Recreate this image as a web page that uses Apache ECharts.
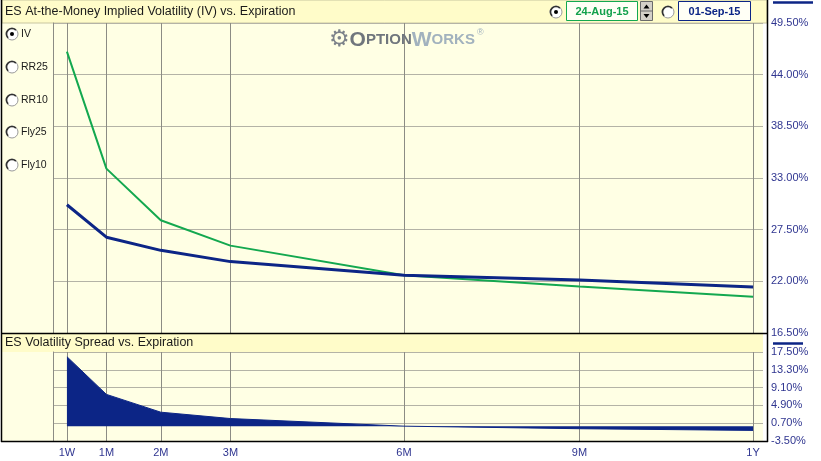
<!DOCTYPE html>
<html><head><meta charset="utf-8">
<script src="https://cdn.jsdelivr.net/npm/echarts@6/dist/echarts.min.js"></script>
<style>html,body{margin:0;padding:0;background:#fff;}#c{width:821px;height:461px;}</style>
</head><body><div id="c"></div>
<script>
// ---- data ----
const tenorLabels = ['1W', '1M', '2M', '3M', '6M', '9M', '1Y'];
const tenorDays = [5.3, 26, 54.5, 91, 182, 274, 365];
const ivAug24 = [46.45, 34.0, 28.5, 25.8, 22.65, 21.45, 20.35];
const ivSep01 = [30.15, 26.7, 25.3, 24.1, 22.65, 22.15, 21.4];
const spread = [16.4, 7.5, 3.3, 1.8, 0.0, -0.6, -1.0];
const spreadTicks = [-3.5, 0.7, 4.9, 9.1, 13.3, 17.5];
const dateLabels = ['24-Aug-15', '01-Sep-15'];
const measureLabels = ['IV', 'RR25', 'RR10', 'Fly25', 'Fly10'];
const titleTop = 'ES At-the-Money Implied Volatility (IV) vs. Expiration';
const titleBottom = 'ES Volatility Spread vs. Expiration';

const GREEN = '#13a84f', NAVY = '#0c2586', LABEL = '#2f3590';
const PLOT_BG = '#ffffe4', BAR_BG = '#fffcc9';
const FONT = '"Liberation Sans", Arial, sans-serif';

const pairs = (ys) => tenorDays.map((d, i) => [d, ys[i]]);
const xLabel = (v) => { const i = tenorDays.indexOf(v); return i >= 0 ? tenorLabels[i] : ''; };

function radio(cx, cy, checked) {
  const els = [
    { type: 'circle', shape: { cx, cy, r: 6 }, style: { fill: '#ffffff', stroke: '#9a9a9a', lineWidth: 1 }, z: 10 },
    { type: 'arc', shape: { cx, cy, r: 5.5, startAngle: Math.PI * 0.75, endAngle: Math.PI * 1.75, clockwise: true }, style: { stroke: '#303030', lineWidth: 1.6, fill: null }, z: 11 }
  ];
  if (checked) els.push({ type: 'circle', shape: { cx, cy, r: 2 }, style: { fill: '#000' }, z: 12 });
  return els;
}

const graphics = [
  // backgrounds
  { type: 'rect', shape: { x: 2, y: 0, width: 761, height: 441 }, style: { fill: PLOT_BG }, z: -20 },
  { type: 'rect', shape: { x: 2, y: 0, width: 765, height: 23 }, style: { fill: BAR_BG, stroke: '#c8c6a0', lineWidth: 1 }, z: -19 },
  { type: 'rect', shape: { x: 2, y: 334, width: 761, height: 18 }, style: { fill: BAR_BG }, z: -19 },
  // frame
  { type: 'line', shape: { x1: 1.5, y1: 0, x2: 1.5, y2: 442 }, style: { stroke: '#000', lineWidth: 1.5 }, z: 20 },
  { type: 'line', shape: { x1: 767.5, y1: 0, x2: 767.5, y2: 442 }, style: { stroke: '#000', lineWidth: 1.5 }, z: 20 },
  { type: 'line', shape: { x1: 1, y1: 441.5, x2: 768, y2: 441.5 }, style: { stroke: '#000', lineWidth: 1.5 }, z: 20 },
  { type: 'line', shape: { x1: 1, y1: 333.5, x2: 768, y2: 333.5 }, style: { stroke: '#000', lineWidth: 1.5 }, z: 20 },
  // titles
  { type: 'text', x: 5, y: 12, style: { text: titleTop, font: '12.5px ' + FONT, fill: '#1a1a1a', verticalAlign: 'middle' }, z: 20 },
  { type: 'text', x: 5, y: 343, style: { text: titleBottom, font: '12.5px ' + FONT, fill: '#1a1a1a', verticalAlign: 'middle' }, z: 20 },
  // axis series markers at the right
  { type: 'line', shape: { x1: 773, y1: 2.5, x2: 813, y2: 2.5 }, style: { stroke: NAVY, lineWidth: 2.5 }, z: 20 },
  { type: 'line', shape: { x1: 773, y1: 343.5, x2: 803, y2: 343.5 }, style: { stroke: NAVY, lineWidth: 2.5 }, z: 20 },
  // logo
  { type: 'text', x: 329, y: 40, style: {
      text: '{g|⚙}{a|O}{b|PTION}{c|W}{d|ORKS}{r|®}',
      verticalAlign: 'middle',
      rich: {
        g: { font: 'bold 23px "DejaVu Sans"', fill: '#7d838a' },
        a: { font: 'bold 21px ' + FONT, fill: '#70767d' },
        b: { font: 'bold 15px ' + FONT, fill: '#70767d' },
        c: { font: 'bold 21px ' + FONT, fill: '#a2b2be' },
        d: { font: 'bold 15px ' + FONT, fill: '#a2b2be' },
        r: { font: '9px ' + FONT, fill: '#a2b2be', verticalAlign: 'top', padding: [0, 0, 9, 2] }
      } }, z: 5 },
  // date selectors
  { type: 'rect', shape: { x: 566.5, y: 1.5, width: 71, height: 19 }, style: { fill: '#fffff6', stroke: GREEN, lineWidth: 1 }, z: 10 },
  { type: 'text', x: 602, y: 11.5, style: { text: dateLabels[0], font: 'bold 11px ' + FONT, fill: '#12a14c', align: 'center', verticalAlign: 'middle' }, z: 11 },
  { type: 'rect', shape: { x: 640.5, y: 1.5, width: 12, height: 19 }, style: { fill: '#d4d0c8', stroke: '#6a6a6a', lineWidth: 1 }, z: 10 },
  { type: 'line', shape: { x1: 640.5, y1: 11, x2: 652.5, y2: 11 }, style: { stroke: '#6a6a6a', lineWidth: 1 }, z: 11 },
  { type: 'polygon', shape: { points: [[643.5, 8.5], [649.5, 8.5], [646.5, 4.5]] }, style: { fill: '#000' }, z: 11 },
  { type: 'polygon', shape: { points: [[643.5, 14], [649.5, 14], [646.5, 18]] }, style: { fill: '#000' }, z: 11 },
  { type: 'rect', shape: { x: 678.5, y: 1.5, width: 72, height: 19 }, style: { fill: '#fffff6', stroke: NAVY, lineWidth: 1 }, z: 10 },
  { type: 'text', x: 714.5, y: 11.5, style: { text: dateLabels[1], font: 'bold 11px ' + FONT, fill: NAVY, align: 'center', verticalAlign: 'middle' }, z: 11 }
];
graphics.push(...radio(556, 12, true), ...radio(668, 12, false));
measureLabels.forEach((m, i) => {
  const cy = [34, 67, 100, 132, 165][i];
  graphics.push(...radio(12, cy, i === 0));
  graphics.push({ type: 'text', x: 21, y: cy, style: { text: m, font: '10.5px ' + FONT, fill: '#1a1a1a', verticalAlign: 'middle' }, z: 12 });
});

const xCommon = (showLabels) => ({
  type: 'value', min: -2, max: 370.2,
  axisLine: { show: false },
  axisTick: { show: false, customValues: tenorDays },
  axisLabel: { show: showLabels, customValues: tenorDays, formatter: xLabel, color: LABEL, fontSize: 11, fontFamily: FONT, margin: 6 },
  splitLine: { show: true, lineStyle: { color: '#8c8c84', width: 1 } }
});

const option = {
  animation: false,
  backgroundColor: '#ffffff',
  graphic: { elements: graphics },
  grid: [
    { left: 53, right: 58, top: 23, height: 310 },
    { left: 53, right: 58, top: 352, height: 89 }
  ],
  xAxis: [
    Object.assign({ gridIndex: 0 }, xCommon(false)),
    Object.assign({ gridIndex: 1 }, xCommon(true))
  ],
  yAxis: [
    { gridIndex: 0, type: 'value', position: 'right', offset: 4, min: 16.5, max: 49.5, interval: 5.5,
      axisLine: { show: false }, axisTick: { show: false },
      axisLabel: { color: LABEL, fontSize: 11, fontFamily: FONT, margin: 4, formatter: v => v.toFixed(2) + '%' },
      splitLine: { lineStyle: { color: '#b4b3a6', width: 1 } } },
    { gridIndex: 1, type: 'value', position: 'right', offset: 4, min: -3.5, max: 17.5,
      axisLine: { show: false }, axisTick: { show: false, customValues: spreadTicks },
      axisLabel: { customValues: spreadTicks, color: LABEL, fontSize: 11, fontFamily: FONT, margin: 4, formatter: v => v.toFixed(2) + '%' },
      splitLine: { lineStyle: { color: '#b4b3a6', width: 1 } } },
    { gridIndex: 0, type: 'value', position: 'left', axisLine: { show: true, lineStyle: { color: '#8c8c84', width: 1 } },
      axisTick: { show: false }, axisLabel: { show: false }, splitLine: { show: false } },
    { gridIndex: 1, type: 'value', position: 'left', axisLine: { show: true, lineStyle: { color: '#8c8c84', width: 1 } },
      axisTick: { show: false }, axisLabel: { show: false }, splitLine: { show: false } }
  ],
  series: [
    { name: dateLabels[0], type: 'line', xAxisIndex: 0, yAxisIndex: 0, data: pairs(ivAug24), symbol: 'none',
      lineStyle: { color: GREEN, width: 2 }, z: 3 },
    { name: dateLabels[1], type: 'line', xAxisIndex: 0, yAxisIndex: 0, data: pairs(ivSep01), symbol: 'none',
      lineStyle: { color: NAVY, width: 3 }, z: 4 },
    { name: 'Spread', type: 'line', xAxisIndex: 1, yAxisIndex: 1, data: pairs(spread), symbol: 'none',
      lineStyle: { color: NAVY, width: 1 }, areaStyle: { color: NAVY, opacity: 1, origin: 'auto' }, z: 3 }
  ]
};
const chart = echarts.init(document.getElementById('c'), null, { renderer: 'canvas' });
chart.setOption(option);
</script>
</body></html>
